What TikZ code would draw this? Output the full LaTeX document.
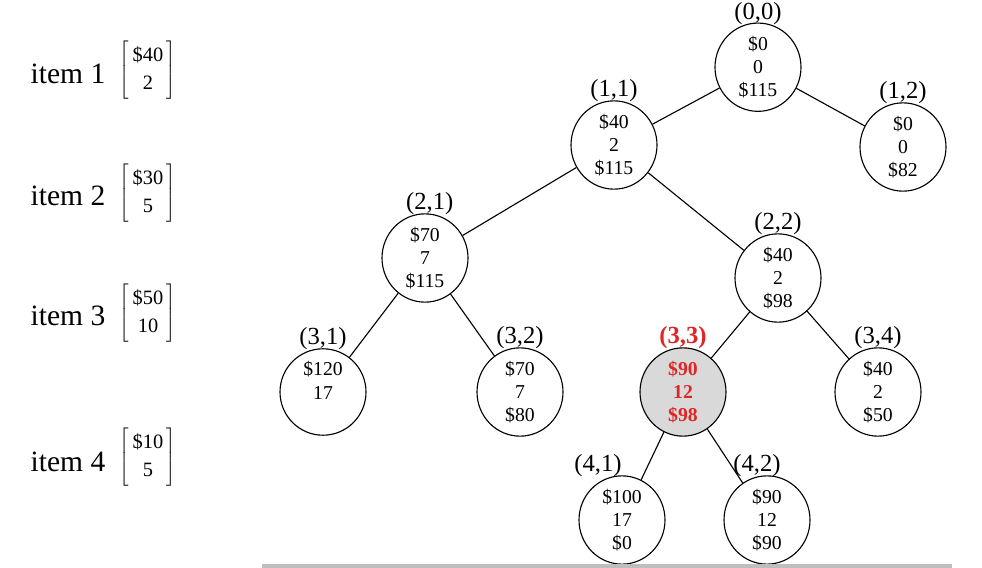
\documentclass[tikz,border=0pt]{standalone}
\usepackage{fontspec}
\setmainfont{Liberation Serif}
\usetikzlibrary{shapes.geometric}
\definecolor{hired}{RGB}{222,38,38}
\definecolor{hifill}{RGB}{217,217,217}
\definecolor{rulegray}{RGB}{190,190,190}

\tikzset{
  bnode/.style={ellipse,draw,line width=0.8pt,minimum width=2.15cm,minimum height=1.85cm,
    inner sep=0pt,align=center,font=\fontsize{14}{16.6}\selectfont},
  best/.style={fill=hifill,text=hired,font=\fontsize{14}{16.6}\selectfont\bfseries},
  lbl/.style={font=\fontsize{17.5}{17.5}\selectfont,inner sep=0pt,label distance=-1.5pt},
  itemlbl/.style={font=\fontsize{21}{21}\selectfont,inner sep=0pt},
  itemvec/.style={font=\fontsize{14.5}{20}\selectfont,inner sep=0pt},
  edge/.style={line width=0.8pt}
}

\begin{document}
\begin{tikzpicture}
\useasboundingbox (0,0) rectangle (24.55,-14.2);

% items
\node[itemlbl] (item1) at (1.7,-1.85) {item 1};
\node[itemvec] (vec1) at (3.7,-1.75) {$\left[\,\begin{tabular}{@{}c@{}}\$40\\2\end{tabular}\,\right]$};
\node[itemlbl] (item2) at (1.7,-4.9) {item 2};
\node[itemvec] (vec2) at (3.7,-4.83) {$\left[\,\begin{tabular}{@{}c@{}}\$30\\5\end{tabular}\,\right]$};
\node[itemlbl] (item3) at (1.7,-7.9) {item 3};
\node[itemvec] (vec3) at (3.7,-7.83) {$\left[\,\begin{tabular}{@{}c@{}}\$50\\10\end{tabular}\,\right]$};
\node[itemlbl] (item4) at (1.7,-11.55) {item 4};
\node[itemvec] (vec4) at (3.7,-11.43) {$\left[\,\begin{tabular}{@{}c@{}}\$10\\5\end{tabular}\,\right]$};

% tree
\node[bnode,label={[lbl]above:(0,0)}] (n00) at (18.95,-1.68) {\$0\\0\\\$115};
\node[bnode,label={[lbl]above:(1,1)}] (n11) at (15.35,-3.625) {\$40\\2\\\$115};
\node[bnode,label={[lbl]above:(1,2)}] (n12) at (22.575,-3.675) {\$0\\0\\\$82};
\node[bnode,label={[lbl,xshift=0.12cm]above:(2,1)}] (n21) at (10.625,-6.45) {\$70\\7\\\$115};
\node[bnode,label={[lbl]above:(2,2)}] (n22) at (19.45,-6.95) {\$40\\2\\\$98};
\node[bnode,label={[lbl]above:(3,1)}] (n31) at (8.075,-9.8) {\$120\\17\\\phantom{0}};
\node[bnode,label={[lbl]above:(3,2)}] (n32) at (13.0,-9.8) {\$70\\7\\\$80};
\node[bnode,best,label={[lbl,text=hired,font=\fontsize{17.5}{17.5}\selectfont\bfseries]above:(3,3)}] (n33) at (17.075,-9.8) {\$90\\12\\\$98};
\node[bnode,label={[lbl]above:(3,4)}] (n34) at (21.95,-9.8) {\$40\\2\\\$50};
\node[bnode,label={[lbl,xshift=-0.6cm]above:(4,1)}] (n41) at (15.55,-13.0) {\$100\\17\\\$0};
\node[bnode,label={[lbl,xshift=-0.25cm]above:(4,2)}] (n42) at (19.175,-13.0) {\$90\\12\\\$90};

\draw[edge] (n00) -- (n11);
\draw[edge] (n00) -- (n12);
\draw[edge] (n11) -- (n21);
\draw[edge] (n11) -- (n22);
\draw[edge] (n21) -- (n31);
\draw[edge] (n21) -- (n32);
\draw[edge] (n22) -- (n33);
\draw[edge] (n22) -- (n34);
\draw[edge] (n33) -- (n41);
\draw[edge] (n33) -- (n42);

% bottom rule
\draw[rulegray,line width=2.2pt] (6.55,-14.15) -- (23.8,-14.15);
\end{tikzpicture}
\end{document}
